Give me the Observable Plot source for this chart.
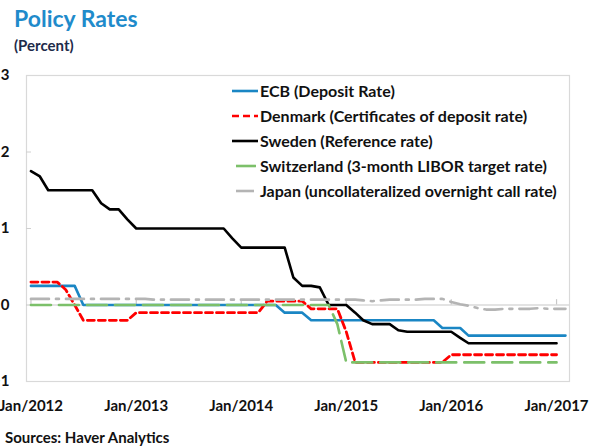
<!DOCTYPE html>
<html>
<head>
<meta charset="utf-8">
<script src="https://cdn.jsdelivr.net/npm/d3@7"></script>
<script src="https://cdn.jsdelivr.net/npm/@observablehq/plot@0.6"></script>
<style>
  html, body { margin: 0; padding: 0; background: #fff; }
  body { width: 590px; height: 446px; position: relative; overflow: hidden; font-family: Lato, "Open Sans", sans-serif; }
  #title { position: absolute; left: 14px; top: 5px; font-size: 23px; font-weight: 700; color: #1f8bcb; line-height: 26px; }
  #subtitle { position: absolute; left: 14px; top: 37px; font-size: 15px; font-weight: 700; color: #1e2b4a; line-height: 17px; }
  #chart { position: absolute; left: 0; top: 60px; }
  #legend { position: absolute; left: 232px; top: 78px; }
  .row { height: 25px; display: flex; align-items: center; font-size: 16px; font-weight: 700; color: #111; white-space: nowrap; }
  .row svg { margin-right: 1px; }
  #source { position: absolute; left: 5px; top: 428px; font-size: 15px; font-weight: 700; color: #111; line-height: 18px; }
</style>
</head>
<body>
<div id="title">Policy Rates</div>
<div id="subtitle">(Percent)</div>
<div id="chart"></div>
<div id="legend"></div>
<div id="source">Sources: Haver Analytics</div>
<script>
// Monthly observations starting Jan 2012
const startYear = 2012;

const seriesNames = [
  "ECB (Deposit Rate)",
  "Denmark (Certificates of deposit rate)",
  "Sweden (Reference rate)",
  "Switzerland (3-month LIBOR target rate)",
  "Japan (uncollateralized overnight call rate)"
];
const seriesColors = ["#1a86c4", "#ff0000", "#000000", "#7cc06a", "#b4b4b4"];
const seriesDash = [null, "7,4", null, "20,8", "18,7,3,7"];

// Jan 2012 – Feb 2017
const ecb = [
  0.25,0.25,0.25,0.25,0.25,0.25,0,0,0,0,0,0,
  0,0,0,0,0,0,0,0,0,0,0,0,
  0,0,0,0,0,-0.1,-0.1,-0.1,-0.2,-0.2,-0.2,-0.2,
  -0.2,-0.2,-0.2,-0.2,-0.2,-0.2,-0.2,-0.2,-0.2,-0.2,-0.2,-0.3,
  -0.3,-0.3,-0.4,-0.4,-0.4,-0.4,-0.4,-0.4,-0.4,-0.4,-0.4,-0.4,
  -0.4,-0.4
];
// Jan 2012 – Jan 2017
const denmark = [
  0.3,0.3,0.3,0.3,0.2,0.0,-0.2,-0.2,-0.2,-0.2,-0.2,-0.2,
  -0.1,-0.1,-0.1,-0.1,-0.1,-0.1,-0.1,-0.1,-0.1,-0.1,-0.1,-0.1,
  -0.1,-0.1,-0.1,0.05,0.05,0.05,0.05,0.05,-0.05,-0.05,-0.05,-0.05,
  -0.35,-0.75,-0.75,-0.75,-0.75,-0.75,-0.75,-0.75,-0.75,-0.75,-0.75,-0.75,
  -0.65,-0.65,-0.65,-0.65,-0.65,-0.65,-0.65,-0.65,-0.65,-0.65,-0.65,-0.65,
  -0.65
];
const sweden = [
  1.75,1.68,1.5,1.5,1.5,1.5,1.5,1.5,1.33,1.25,1.25,1.12,
  1.0,1.0,1.0,1.0,1.0,1.0,1.0,1.0,1.0,1.0,1.0,0.87,
  0.75,0.75,0.75,0.75,0.75,0.75,0.36,0.25,0.25,0.23,0.0,0.0,
  0.0,-0.1,-0.2,-0.25,-0.25,-0.25,-0.33,-0.35,-0.35,-0.35,-0.35,-0.35,
  -0.35,-0.43,-0.5,-0.5,-0.5,-0.5,-0.5,-0.5,-0.5,-0.5,-0.5,-0.5,
  -0.5
];
const switzerland = [
  0,0,0,0,0,0,0,0,0,0,0,0,
  0,0,0,0,0,0,0,0,0,0,0,0,
  0,0,0,0,0,0,0,0,0,0,0,-0.25,
  -0.75,-0.75,-0.75,-0.75,-0.75,-0.75,-0.75,-0.75,-0.75,-0.75,-0.75,-0.75,
  -0.75,-0.75,-0.75,-0.75,-0.75,-0.75,-0.75,-0.75,-0.75,-0.75,-0.75,-0.75,
  -0.75
];
// Jan 2012 – Feb 2017
const japan = [
  0.08,0.08,0.08,0.08,0.08,0.08,0.08,0.08,0.08,0.08,0.08,0.08,
  0.08,0.08,0.07,0.07,0.07,0.07,0.07,0.07,0.07,0.07,0.07,0.07,
  0.07,0.07,0.07,0.07,0.07,0.07,0.07,0.07,0.07,0.07,0.07,0.07,
  0.07,0.07,0.06,0.05,0.06,0.07,0.07,0.07,0.07,0.08,0.08,0.08,
  0.04,0.01,-0.01,-0.04,-0.06,-0.06,-0.05,-0.05,-0.05,-0.05,-0.04,-0.05,
  -0.05,-0.05
];

const yTicks = [-1, 0, 1, 2, 3];
const xTickYears = [2012, 2013, 2014, 2015, 2016, 2017];
const xTickLabels = ["Jan/2012", "Jan/2013", "Jan/2014", "Jan/2015", "Jan/2016", "Jan/2017"];

const seriesValues = [ecb, denmark, sweden, switzerland, japan];
const monthDate = i => new Date(Date.UTC(startYear, i, 1));
const rows = seriesValues.flatMap((vals, s) =>
  vals.map((v, i) => ({series: seriesNames[s], date: monthDate(i), value: v})));
const xTicks = xTickYears.map(y => new Date(Date.UTC(y, 0, 1)));
const labelOf = new Map(xTicks.map((d, i) => [+d, xTickLabels[i]]));

const lineMarks = seriesNames.map((name, s) =>
  Plot.line(rows.filter(r => r.series === name), {
    x: "date", y: "value",
    stroke: seriesColors[s],
    strokeWidth: s === 1 ? 2.8 : 2.6,
    strokeDasharray: seriesDash[s] || undefined,
    strokeLinejoin: "round",
    curve: "linear"
  }));

const chart = Plot.plot({
  width: 590,
  height: 360,
  marginLeft: 26,
  marginRight: 21,
  marginTop: 15,
  marginBottom: 39,
  style: {fontFamily: "Lato, sans-serif", fontSize: "15px", fontWeight: 700, color: "#111", background: "#fff"},
  x: {type: "utc", domain: [new Date(Date.UTC(2011, 11, 16, 12)), new Date(Date.UTC(2017, 1, 15))], label: null},
  y: {domain: [-1, 3], label: null},
  marks: [
    Plot.frame({stroke: "#d9d9d9", strokeWidth: 1.2}),
    Plot.ruleY([0], {stroke: "#c8c8c8", strokeWidth: 1.2}),
    Plot.ruleX(xTicks, {x: d => d, y1: 0, y2: 0.07, stroke: "#c8c8c8", strokeWidth: 1.2}),
    Plot.axisY({ticks: [1, 2], tickSize: -5, tickFormat: () => "", stroke: "#d0d0d0", label: null}),
    Plot.axisY({ticks: yTicks, tickSize: 0, tickPadding: 17, label: null, tickFormat: d => d3.format("d")(d).replace("-", "\u2212"), fontSize: 15, fontWeight: 700, fill: "#111"}),
    Plot.axisX({ticks: xTicks, tickSize: 0, tickPadding: 19, label: null, tickFormat: d => labelOf.get(+d), fontSize: 15, fontWeight: 700, fill: "#111"}),
    ...lineMarks
  ]
});
document.getElementById("chart").appendChild(chart);

// Legend
const legend = d3.select("#legend");
const sampleOffset = [0, 0, 0, 24, 31];
seriesNames.forEach((name, s) => {
  const row = legend.append("div").attr("class", "row");
  const svg = row.append("svg").attr("width", 27).attr("height", 6);
  svg.append("line")
    .attr("x1", 0).attr("x2", 26).attr("y1", 3).attr("y2", 3)
    .attr("stroke", seriesColors[s])
    .attr("stroke-width", 2.6)
    .attr("stroke-dasharray", seriesDash[s])
    .attr("stroke-dashoffset", sampleOffset[s]);
  row.append("span").text(name);
});
</script>
</body>
</html>
